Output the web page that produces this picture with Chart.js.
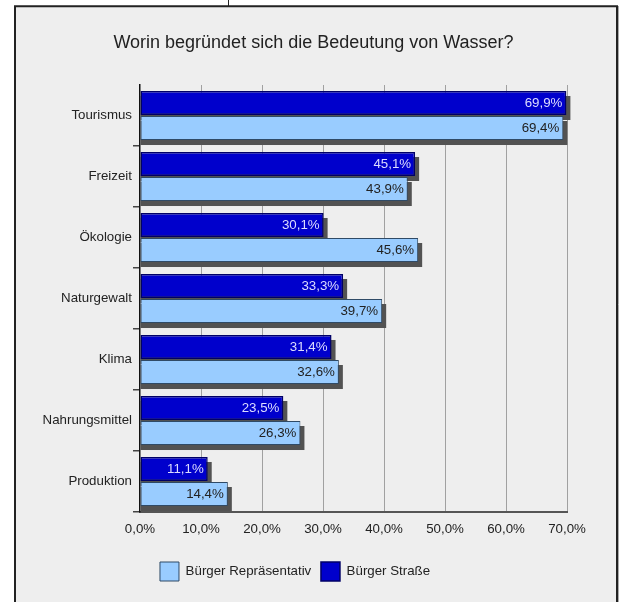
<!DOCTYPE html>
<html>
<head>
<meta charset="utf-8">
<title>Bedeutung von Wasser</title>
<script src="https://cdn.jsdelivr.net/npm/chart.js@4/dist/chart.umd.min.js"></script>
<style>
  html, body { margin: 0; padding: 0; background: #ffffff; overflow: hidden; }
  canvas { display: block; }
</style>
</head>
<body>
<canvas id="chart" width="621" height="602"></canvas>
<script>
// Survey data: what makes water important (share of answers, %)
const chartTitle = 'Worin begründet sich die Bedeutung von Wasser?';
const categories = ['Tourismus', 'Freizeit', 'Ökologie', 'Naturgewalt', 'Klima', 'Nahrungsmittel', 'Produktion'];
const seriesNames = ['Bürger Straße', 'Bürger Repräsentativ'];
const strasseValues = [69.9, 45.1, 30.1, 33.3, 31.4, 23.5, 11.1];
const repraesentativValues = [69.4, 43.9, 45.6, 39.7, 32.6, 26.3, 14.4];
const xTickMin = 0;
const xTickMax = 70;
const xTickStep = 10;

const FONT = '"Liberation Sans", Arial, sans-serif';
const TEXT = '#222222';

const pct = v => v.toFixed(1).replace('.', ',') + '%';

// Grey page frame behind the chart
const framePlugin = {
  id: 'frame',
  beforeDraw(chart) {
    const ctx = chart.ctx;
    ctx.save();
    ctx.fillStyle = '#ffffff';
    ctx.fillRect(0, 0, chart.width, chart.height);
    ctx.fillStyle = '#eeeeee';
    ctx.fillRect(15, 6, 602, chart.height);
    ctx.strokeStyle = '#222222';
    ctx.lineWidth = 2;
    ctx.beginPath();
    ctx.moveTo(15, chart.height + 5);
    ctx.lineTo(15, 6.3);
    ctx.lineTo(617, 6.3);
    ctx.lineTo(617, chart.height + 5);
    ctx.stroke();
    ctx.strokeStyle = '#aaaaaa';
    ctx.lineWidth = 1;
    ctx.beginPath();
    ctx.moveTo(618.5, 6);
    ctx.lineTo(618.5, chart.height + 5);
    ctx.stroke();
    ctx.strokeStyle = '#222222';
    ctx.beginPath();
    ctx.moveTo(228.5, 0);
    ctx.lineTo(228.5, 6);
    ctx.stroke();
    ctx.restore();
  }
};

// Hard drop shadow under every bar
const shadowPlugin = {
  id: 'barShadow',
  beforeDatasetsDraw(chart) {
    const ctx = chart.ctx;
    ctx.save();
    ctx.fillStyle = '#525252';
    chart.data.datasets.forEach((ds, i) => {
      const meta = chart.getDatasetMeta(i);
      if (meta.hidden) return;
      meta.data.forEach(bar => {
        const p = bar.getProps(['x', 'y', 'base', 'height'], true);
        ctx.fillRect(p.base, p.y - p.height / 2 + 5, p.x + 4 - p.base, p.height);
      });
    });
    ctx.restore();
  }
};

// Value labels inside the bar ends
const valueLabelPlugin = {
  id: 'valueLabels',
  afterDatasetsDraw(chart) {
    const ctx = chart.ctx;
    ctx.save();
    ctx.font = '13.3px ' + FONT;
    ctx.textAlign = 'right';
    ctx.textBaseline = 'middle';
    chart.data.datasets.forEach((ds, i) => {
      const meta = chart.getDatasetMeta(i);
      if (meta.hidden) return;
      ctx.fillStyle = ds.labelColor;
      meta.data.forEach((bar, j) => {
        const p = bar.getProps(['x', 'y'], true);
        ctx.fillText(pct(ds.data[j]), p.x - 4, p.y + 0.5);
      });
    });
    ctx.restore();
  }
};

// Heading
const headingPlugin = {
  id: 'heading',
  afterDraw(chart) {
    const ctx = chart.ctx;
    ctx.save();
    ctx.font = '18px ' + FONT;
    ctx.fillStyle = TEXT;
    ctx.textAlign = 'center';
    ctx.textBaseline = 'alphabetic';
    ctx.fillText(chartTitle, 313.5, 47.5);
    ctx.restore();
  }
};

new Chart(document.getElementById('chart'), {
  type: 'bar',
  data: {
    labels: categories,
    datasets: [
      {
        label: seriesNames[0],
        data: strasseValues,
        backgroundColor: '#0000cc',
        borderColor: '#000066',
        borderWidth: 1.5,
        borderSkipped: false,
        labelColor: '#dcdcff'
      },
      {
        label: seriesNames[1],
        data: repraesentativValues,
        backgroundColor: '#99ccff',
        borderColor: '#2f4a66',
        borderWidth: 1,
        borderSkipped: false,
        labelColor: '#222222'
      }
    ]
  },
  options: {
    indexAxis: 'y',
    responsive: false,
    animation: false,
    devicePixelRatio: 1,
    categoryPercentage: 0.82,
    barPercentage: 0.96,
    layout: { padding: { left: 23.1, right: 54, top: 85, bottom: 11 } },
    scales: {
      x: {
        type: 'linear',
        min: xTickMin,
        max: xTickMax,
        ticks: {
          stepSize: xTickStep,
          padding: 9,
          color: TEXT,
          font: { family: FONT, size: 13.3 },
          callback: v => pct(v)
        },
        grid: {
          drawTicks: false,
          lineWidth: 1,
          color: c => (c.tick && c.tick.value === 0) ? 'rgba(0,0,0,0)' : '#a0a0a0'
        },
        border: { color: '#555555', width: 2 },
        afterFit(scale) { scale.height = 40.3; }
      },
      y: {
        type: 'category',
        ticks: {
          padding: 1,
          color: TEXT,
          font: { family: FONT, size: 13.3 }
        },
        grid: {
          offset: true,
          drawOnChartArea: false,
          drawTicks: true,
          tickLength: 7,
          color: c => c.index === 0 ? 'rgba(0,0,0,0)' : '#444444',
          lineWidth: 1.5
        },
        border: { color: '#111111', width: 1.5 },
        afterFit(scale) { scale.width = 116.9; }
      }
    },
    plugins: {
      title: { display: false },
      tooltip: { enabled: false },
      legend: {
        display: true,
        position: 'bottom',
        reverse: true,
        labels: {
          boxWidth: 19,
          boxHeight: 19,
          padding: 9.7,
          color: TEXT,
          font: { family: FONT, size: 13.3 }
        }
      }
    }
  },
  plugins: [framePlugin, shadowPlugin, valueLabelPlugin, headingPlugin]
});
</script>
</body>
</html>
